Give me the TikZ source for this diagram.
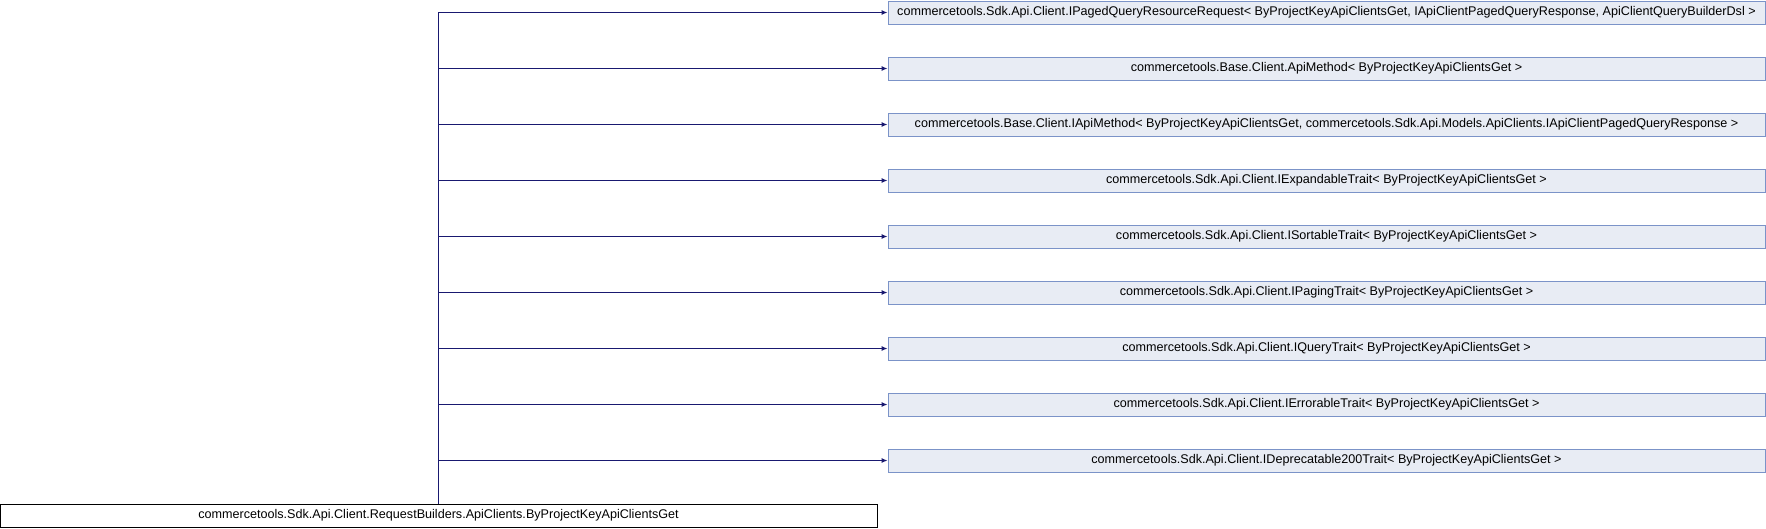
\documentclass[tikz,border=0pt]{standalone}
\usepackage{fontspec}
\setmainfont{Liberation Sans}
\usepackage{tikz}
\usetikzlibrary{arrows.meta,positioning}
\definecolor{edgeblue}{HTML}{191970}
\definecolor{boxfill}{HTML}{E8ECF4}
\definecolor{boxline}{HTML}{7B93C8}
\begin{document}
\begin{tikzpicture}[x=1pt,y=-1pt,>={Latex[length=6pt,width=5pt]},
block/.style={draw=boxline,fill=boxfill,line width=1pt,minimum width=877pt,minimum height=23pt,inner sep=0pt,align=center,font=\fontsize{12.6}{14}\selectfont},
basebox/.style={block,draw=black,fill=white},
inherit/.style={->,line width=1pt,draw=edgeblue}]
\useasboundingbox (0,0) rectangle (1766,528);
\node[block] (paged) at (1326.5,12.5)
{commercetools.Sdk.Api.Client.IPagedQueryResourceRequest< ByProjectKeyApiClientsGet, IApiClientPagedQueryResponse, ApiClientQueryBuilderDsl >};
\node[block] (apimethod) at (1326.5,68.5)
{commercetools.Base.Client.ApiMethod< ByProjectKeyApiClientsGet >};
\node[block] (iapimethod) at (1326.5,124.5)
{commercetools.Base.Client.IApiMethod< ByProjectKeyApiClientsGet, commercetools.Sdk.Api.Models.ApiClients.IApiClientPagedQueryResponse >};
\node[block] (expandable) at (1326.5,180.5)
{commercetools.Sdk.Api.Client.IExpandableTrait< ByProjectKeyApiClientsGet >};
\node[block] (sortable) at (1326.5,236.5)
{commercetools.Sdk.Api.Client.ISortableTrait< ByProjectKeyApiClientsGet >};
\node[block] (paging) at (1326.5,292.5)
{commercetools.Sdk.Api.Client.IPagingTrait< ByProjectKeyApiClientsGet >};
\node[block] (query) at (1326.5,348.5)
{commercetools.Sdk.Api.Client.IQueryTrait< ByProjectKeyApiClientsGet >};
\node[block] (errorable) at (1326.5,404.5)
{commercetools.Sdk.Api.Client.IErrorableTrait< ByProjectKeyApiClientsGet >};
\node[block] (deprecatable) at (1326.5,460.5)
{commercetools.Sdk.Api.Client.IDeprecatable200Trait< ByProjectKeyApiClientsGet >};
\node[basebox] (clientsget) at (438.5,515.5)
{commercetools.Sdk.Api.Client.RequestBuilders.ApiClients.ByProjectKeyApiClientsGet};
\draw[inherit] (clientsget.north) |- (paged.west);
\draw[inherit] (clientsget.north) |- (apimethod.west);
\draw[inherit] (clientsget.north) |- (iapimethod.west);
\draw[inherit] (clientsget.north) |- (expandable.west);
\draw[inherit] (clientsget.north) |- (sortable.west);
\draw[inherit] (clientsget.north) |- (paging.west);
\draw[inherit] (clientsget.north) |- (query.west);
\draw[inherit] (clientsget.north) |- (errorable.west);
\draw[inherit] (clientsget.north) |- (deprecatable.west);
\end{tikzpicture}
\end{document}
